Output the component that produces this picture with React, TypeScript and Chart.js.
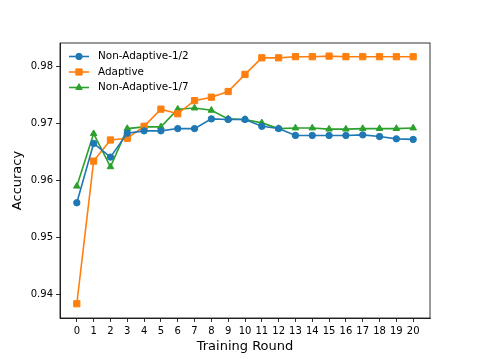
import React, { useEffect, useRef } from "react";
import { Chart, registerables } from "chart.js";

Chart.register(...registerables);

const rounds = [0,1,2,3,4,5,6,7,8,9,10,11,12,13,14,15,16,17,18,19,20];
const nonAdaptiveHalf = [0.9561,0.9665,0.9641,0.9683,0.9687,0.9687,0.9691,0.9691,0.9708,0.9707,0.9707,0.9695,0.9691,0.9679,0.9679,0.9679,0.9679,0.9680,0.9677,0.9673,0.9672];
const adaptive = [0.9384,0.9634,0.9671,0.9674,0.9695,0.9725,0.9717,0.9740,0.9746,0.9756,0.9786,0.9815,0.9815,0.9817,0.9817,0.9818,0.9817,0.9817,0.9817,0.9817,0.9817];
const nonAdaptiveSeventh = [0.9590,0.9682,0.9624,0.9691,0.9694,0.9694,0.9725,0.9727,0.9723,0.9708,0.9707,0.9701,0.9691,0.9692,0.9692,0.9690,0.9690,0.9691,0.9691,0.9691,0.9692];
const yTicks = [0.94, 0.95, 0.96, 0.97, 0.98];
const seriesLabels = ["Non-Adaptive-1/2", "Adaptive", "Non-Adaptive-1/7"];
const colors = ["#1f77b4", "#ff7f0e", "#2ca02c"];
const styles = ["circle", "rect", "triangle"];
const radii = [3.2, 4.4, 3.8];

const FONT = "'DejaVu Sans', sans-serif";

function drawMarker(ctx: CanvasRenderingContext2D, style: string, r: number, x: number, y: number, color: string) {
  ctx.save();
  ctx.fillStyle = color;
  ctx.strokeStyle = color;
  ctx.lineWidth = 1;
  ctx.beginPath();
  if (style === "circle") {
    ctx.arc(x, y, r, 0, Math.PI * 2);
  } else if (style === "rect") {
    const s = Math.SQRT1_2 * r;
    ctx.rect(x - s, y - s, 2 * s, 2 * s);
  } else {
    let rad = 0;
    ctx.moveTo(x + Math.sin(rad) * r, y - Math.cos(rad) * r);
    rad += (2 * Math.PI) / 3;
    ctx.lineTo(x + Math.sin(rad) * r, y - Math.cos(rad) * r);
    rad += (2 * Math.PI) / 3;
    ctx.lineTo(x + Math.sin(rad) * r, y - Math.cos(rad) * r);
    ctx.closePath();
  }
  ctx.fill();
  ctx.stroke();
  ctx.restore();
}

const framePlugin = {
  id: "frame",
  afterDraw(chart: any) {
    const { ctx, chartArea } = chart;
    ctx.save();
    ctx.strokeStyle = "#000";
    ctx.lineWidth = 0.8;
    ctx.strokeRect(chartArea.left, chartArea.top, chartArea.right - chartArea.left, chartArea.bottom - chartArea.top);
    const x0 = chartArea.left + 9;
    let y = chartArea.top + 13.5;
    ctx.font = `10.4px ${FONT}`;
    ctx.textBaseline = "middle";
    ctx.textAlign = "left";
    chart.data.datasets.forEach((ds: any, i: number) => {
      ctx.strokeStyle = colors[i];
      ctx.lineWidth = 1.6;
      ctx.beginPath();
      ctx.moveTo(x0, y);
      ctx.lineTo(x0 + 20, y);
      ctx.stroke();
      drawMarker(ctx, styles[i], radii[i], x0 + 10, y, colors[i]);
      ctx.fillStyle = "#000";
      ctx.fillText(ds.label, x0 + 29, y);
      y += 15.5;
    });
    ctx.restore();
  },
};

export default function App() {
  const ref = useRef<HTMLCanvasElement>(null);
  useEffect(() => {
    document.body.style.margin = "0";
    const series = [nonAdaptiveHalf, adaptive, nonAdaptiveSeventh];
    const chart = new Chart(ref.current!, {
      type: "line",
      data: {
        datasets: series.map((vals, i) => ({
          label: seriesLabels[i],
          data: rounds.map((r, j) => ({ x: r, y: vals[j] })),
          borderColor: colors[i],
          backgroundColor: colors[i],
          borderWidth: 1.6,
          pointStyle: styles[i] as any,
          pointRadius: radii[i],
          pointBorderWidth: 1,
          pointBorderColor: colors[i],
          pointBackgroundColor: colors[i],
          tension: 0,
        })),
      },
      options: {
        animation: false,
        responsive: false,
        maintainAspectRatio: false,
        layout: { padding: { left: 0, right: 48, top: 43, bottom: 0 } },
        plugins: { legend: { display: false }, tooltip: { enabled: false } },
        scales: {
          x: {
            type: "linear",
            min: -1,
            max: 21,
            afterBuildTicks: (s: any) => { s.ticks = rounds.map((v) => ({ value: v })); },
            afterFit: (s: any) => { s.height = 41; },
            ticks: { color: "#000", font: { family: FONT, size: 10 }, padding: 3, maxRotation: 0, autoSkip: false, callback: (v: any) => String(v) },
            grid: { drawOnChartArea: false, drawTicks: true, tickLength: 4, color: "#000", lineWidth: 0.8 },
            border: { display: true, color: "#000", width: 0.8 },
            title: { display: true, text: "Training Round", color: "#000", font: { family: FONT, size: 13 }, padding: { top: 0, bottom: 5 } },
          },
          y: {
            type: "linear",
            min: 0.9359,
            max: 0.9841,
            afterBuildTicks: (s: any) => { s.ticks = yTicks.map((v) => ({ value: v })); },
            afterFit: (s: any) => { s.width = 60; },
            ticks: { color: "#000", font: { family: FONT, size: 10 }, padding: 3, callback: (v: any) => Number(v).toFixed(2) },
            grid: { drawOnChartArea: false, drawTicks: true, tickLength: 4, color: "#000", lineWidth: 0.8 },
            border: { display: true, color: "#000", width: 0.8 },
            title: { display: true, text: "Accuracy", color: "#000", font: { family: FONT, size: 13 }, padding: { top: 10, bottom: 0 } },
          },
        },
      },
      plugins: [framePlugin],
    });
    return () => chart.destroy();
  }, []);
  return (
    <div style={{ position: "fixed", left: 0, top: 0, width: 478, height: 359, background: "#fff" }}>
      <canvas ref={ref} width={478} height={359} style={{ width: 478, height: 359, display: "block" }} />
    </div>
  );
}
